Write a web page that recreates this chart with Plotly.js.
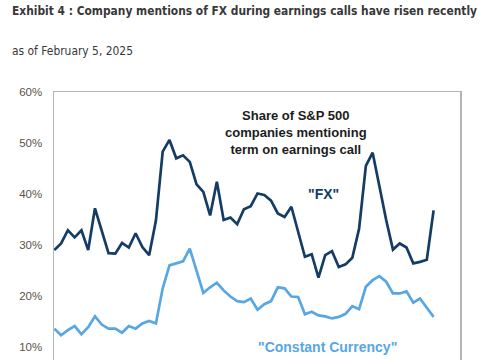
<!DOCTYPE html>
<html>
<head>
<meta charset="utf-8">
<script src="https://cdn.plot.ly/plotly-3.0.1.min.js"></script>
<style>
  html, body { margin: 0; padding: 0; background: #ffffff; overflow: hidden; }
  #chart { width: 485px; height: 420px; }
</style>
</head>
<body>
<div id="chart"></div>
<script>
// Quarters (earnings seasons), 4Q10 .. 4Q24
var quarters = [
  "4Q10",
  "1Q11","2Q11","3Q11","4Q11",
  "1Q12","2Q12","3Q12","4Q12",
  "1Q13","2Q13","3Q13","4Q13",
  "1Q14","2Q14","3Q14","4Q14",
  "1Q15","2Q15","3Q15","4Q15",
  "1Q16","2Q16","3Q16","4Q16",
  "1Q17","2Q17","3Q17","4Q17",
  "1Q18","2Q18","3Q18","4Q18",
  "1Q19","2Q19","3Q19","4Q19",
  "1Q20","2Q20","3Q20","4Q20",
  "1Q21","2Q21","3Q21","4Q21",
  "1Q22","2Q22","3Q22","4Q22",
  "1Q23","2Q23","3Q23","4Q23",
  "1Q24","2Q24","3Q24","4Q24"
];

// Share of S&P 500 companies mentioning "FX" (%)
var fxShare = [
  29.0,
  30.3, 32.9, 31.5, 32.9,
  29.0, 37.2, 32.6, 28.4,
  28.3, 30.4, 29.5, 32.3,
  29.6, 28.0, 34.8, 48.3,
  50.6, 47.0, 47.6, 46.3,
  41.9, 40.4, 35.8, 42.4,
  34.9, 35.4, 34.1, 37.0,
  37.6, 40.1, 39.8, 38.7,
  36.2, 35.5, 37.5, 32.6,
  27.7, 28.2, 23.6, 28.0,
  28.8, 25.7, 26.2, 27.5,
  33.2, 45.5, 48.1, 41.5,
  34.9, 29.1, 30.3, 29.5,
  26.4, 26.7, 27.1, 36.8
];

// Share of S&P 500 companies mentioning "Constant Currency" (%)
var ccShare = [
  13.6,
  12.3, 13.3, 14.1, 12.5,
  13.9, 16.0, 14.4, 13.6,
  13.6, 12.8, 14.1, 13.6,
  14.6, 15.1, 14.6, 21.5,
  26.0, 26.4, 26.8, 29.3,
  25.0, 20.6, 21.7, 22.6,
  21.1, 19.9, 19.0, 18.8,
  19.5, 17.3, 18.4, 19.0,
  21.7, 21.5, 19.9, 19.8,
  16.4, 16.9, 16.2, 16.0,
  15.6, 15.9, 16.5, 18.0,
  17.4, 21.8, 23.1, 23.9,
  22.8, 20.5, 20.5, 20.9,
  18.7, 19.5, 17.7, 15.9
];

var yTickVals = [10, 20, 30, 40, 50, 60];
var yTickLabels = ["10%", "20%", "30%", "40%", "50%", "60%"];

var titleText = "Exhibit 4 : Company mentions of FX during earnings calls have risen recently";
var subtitleText = "as of February 5, 2025";

var traces = [
  {
    x: quarters, y: fxShare, type: "scatter", mode: "lines", name: "\"FX\"",
    line: { color: "#143c64", width: 2.7 }
  },
  {
    x: quarters, y: ccShare, type: "scatter", mode: "lines", name: "\"Constant Currency\"",
    line: { color: "#57a7e4", width: 2.7 }
  }
];

var layout = {
  width: 485,
  height: 420,
  margin: { l: 54, r: 25, t: 92, b: 22 },
  paper_bgcolor: "#ffffff",
  plot_bgcolor: "#ffffff",
  showlegend: false,
  font: { family: "Liberation Sans, Arial, sans-serif", color: "#595959" },
  xaxis: {
    type: "category",
    range: [-0.05, 59.9],
    showgrid: false,
    zeroline: false,
    showticklabels: false,
    ticks: "",
    showline: true,
    mirror: true,
    linecolor: "#b4b4b4",
    linewidth: 1.5
  },
  yaxis: {
    range: [0, 60],
    tickvals: yTickVals,
    ticktext: yTickLabels,
    showgrid: false,
    zeroline: false,
    ticks: "",
    ticklabelstandoff: 8,
    tickfont: { family: "Liberation Sans, Arial, sans-serif", size: 11.5, color: "#5b5249" },
    showline: true,
    mirror: true,
    linecolor: "#b4b4b4",
    linewidth: 1.5
  },
  annotations: [
    {
      text: titleText,
      xref: "paper", yref: "paper",
      x: (12 - 54) / 406, y: (398 - 11) / 306,
      xanchor: "left", yanchor: "middle", showarrow: false,
      font: { family: "DejaVu Sans Condensed, Liberation Sans, sans-serif", size: 12, weight: "bold", color: "#383838" }
    },
    {
      text: subtitleText,
      xref: "paper", yref: "paper",
      x: (12 - 54) / 406, y: (398 - 50) / 306,
      xanchor: "left", yanchor: "middle", showarrow: false,
      font: { family: "DejaVu Sans Condensed, Liberation Sans, sans-serif", size: 12.5, color: "#383838" }
    },
    {
      text: "<b>Share of S&P 500<br>companies mentioning<br>term on earnings call</b>",
      xref: "paper", yref: "paper",
      x: (295.5 - 54) / 406, y: (398 - 132) / 306,
      xanchor: "center", yanchor: "middle", showarrow: false, align: "center",
      font: { family: "Liberation Sans, Arial, sans-serif", size: 13, color: "#1c1c1c" }
    },
    {
      text: "<b>\"FX\"</b>",
      xref: "paper", yref: "paper",
      x: (323 - 54) / 406, y: (398 - 194) / 306,
      xanchor: "center", yanchor: "middle", showarrow: false,
      font: { family: "Liberation Sans, Arial, sans-serif", size: 14, color: "#143c64" }
    },
    {
      text: "<b>\"Constant Currency\"</b>",
      xref: "paper", yref: "paper",
      x: (327 - 54) / 406, y: (398 - 346.7) / 306,
      xanchor: "center", yanchor: "middle", showarrow: false,
      font: { family: "Liberation Sans, Arial, sans-serif", size: 14, color: "#57a7e4" }
    }
  ]
};

Plotly.newPlot("chart", traces, layout, { displayModeBar: false, staticPlot: true }).then(function (gd) {
  // Fit the header texts to the reference widths (reference uses a narrow typeface)
  var widths = {};
  widths[titleText] = 465;
  widths[subtitleText] = 121;
  var leftEdge = 12;
  var nodes = gd.querySelectorAll("text.annotation-text");
  for (var i = 0; i < nodes.length; i++) {
    var node = nodes[i];
    var t = node.textContent;
    if (widths[t]) {
      node.setAttribute("textLength", widths[t]);
      node.setAttribute("lengthAdjust", "spacingAndGlyphs");
      var r = node.getBoundingClientRect();
      var cur = parseFloat(node.getAttribute("x")) || 0;
      node.setAttribute("x", cur + (leftEdge - r.left));
    }
  }
});
</script>
</body>
</html>
